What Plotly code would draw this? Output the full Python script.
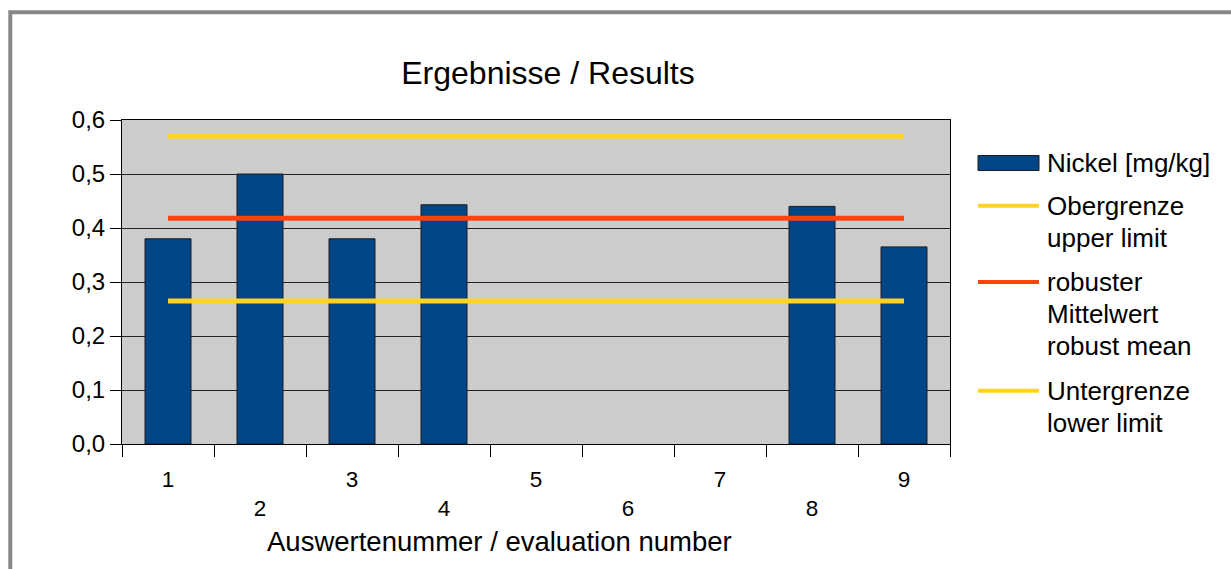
import plotly.graph_objects as go

# --- data -------------------------------------------------------------
categories = [1, 2, 3, 4, 5, 6, 7, 8, 9]
nickel = [0.38, 0.50, 0.38, 0.443, None, None, None, 0.44, 0.365]
upper_limit = 0.57
robust_mean = 0.418
lower_limit = 0.265

title_text = "Ergebnisse / Results"
x_title = "Auswertenummer / evaluation number"
series_name = "Nickel [mg/kg]"
legend_rows = [
    ("bar", "#004586", ["Nickel [mg/kg]"]),
    ("line", "#ffd320", ["Obergrenze", "upper limit"]),
    ("line", "#ff420e", ["robuster", "Mittelwert", "robust mean"]),
    ("line", "#ffd320", ["Untergrenze", "lower limit"]),
]

# --- geometry of the plot area (pixels) ---------------------------------
W, H = 1231, 569
L, R, T, B = 122, 950, 120, 444
FONT = "Liberation Sans, Arial, sans-serif"


def px_x(px):
    return (px - L) / (R - L)


def px_y(py):
    return (B - py) / (B - T)


BAR_BLUE = "#004586"
YELLOW = "#ffd320"
ORANGE = "#ff420e"

fig = go.Figure()

fig.add_trace(go.Bar(
    x=categories, y=nickel, width=0.5, name=series_name,
    marker=dict(color=BAR_BLUE, line=dict(color="#1c1c1c", width=1)),
    showlegend=False,
))

for val, col, nm in [(upper_limit, YELLOW, "Obergrenze"),
                     (robust_mean, ORANGE, "robuster Mittelwert"),
                     (lower_limit, YELLOW, "Untergrenze")]:
    fig.add_trace(go.Scatter(
        x=[categories[0], categories[-1]], y=[val, val], mode="lines",
        line=dict(color=col, width=5), name=nm, showlegend=False,
    ))

# staggered category labels: every second label goes one line lower
ticktext = [str(c) if i % 2 == 0 else "<br>" + str(c) for i, c in enumerate(categories)]
boundaries = [c - 0.5 for c in categories] + [categories[-1] + 0.5]

fig.update_xaxes(
    range=[categories[0] - 0.5, categories[-1] + 0.5],
    tickmode="array", tickvals=categories, ticktext=ticktext, ticks="",
    ticklabelstandoff=15,
    tickfont=dict(family=FONT, size=22.5, color="#000"),
    showline=True, linecolor="#000", linewidth=1, mirror=True,
    showgrid=False, zeroline=False,
    minor=dict(tickmode="array", tickvals=boundaries, ticks="outside",
               ticklen=12, tickcolor="#000", tickwidth=1, showgrid=False),
)
fig.update_yaxes(
    range=[0, 0.6], dtick=0.1, tick0=0, tickformat=".1f",
    ticks="outside", ticklen=11, tickcolor="#000", tickwidth=1,
    tickfont=dict(family=FONT, size=24, color="#000"),
    showline=True, linecolor="#000", linewidth=1, mirror=True,
    showgrid=True, gridcolor="#222222", gridwidth=1, zeroline=False,
)

shapes = [
    # outer chart frame
    dict(type="rect", xref="paper", yref="paper",
         x0=px_x(10.3), x1=px_x(1260), y0=px_y(620), y1=px_y(12.3),
         line=dict(color="#878787", width=4), fillcolor="rgba(0,0,0,0)",
         layer="below"),
]
annotations = [
    dict(text=x_title, xref="paper", yref="paper", x=px_x(499), y=px_y(541),
         xanchor="center", yanchor="middle", showarrow=False,
         font=dict(family=FONT, size=27.5, color="#000")),
]

# legend drawn at the right of the plot area
sym_x0, sym_x1, text_x = 978, 1039, 1045
row_tops = [163, 205.7, 282, 390.8]
line_step = 32
for (kind, col, lines), y0 in zip(legend_rows, row_tops):
    if kind == "bar":
        shapes.append(dict(type="rect", xref="paper", yref="paper",
                           x0=px_x(sym_x0), x1=px_x(sym_x1),
                           y0=px_y(y0 + 7.5), y1=px_y(y0 - 7.5),
                           fillcolor=col, line=dict(color="#1c1c1c", width=1)))
    else:
        shapes.append(dict(type="line", xref="paper", yref="paper",
                           x0=px_x(sym_x0), x1=px_x(sym_x1),
                           y0=px_y(y0), y1=px_y(y0),
                           line=dict(color=col, width=4)))
    for k, t in enumerate(lines):
        annotations.append(dict(text=t, xref="paper", yref="paper",
                                x=px_x(text_x), y=px_y(y0 + k * line_step),
                                xanchor="left", yanchor="middle", showarrow=False,
                                font=dict(family=FONT, size=26, color="#000")))

fig.update_layout(
    width=W, height=H,
    margin=dict(l=L, r=W - R, t=T, b=H - B, pad=0),
    paper_bgcolor="#ffffff", plot_bgcolor="#cccccc",
    separators=",.",
    barmode="overlay",
    title=dict(text=title_text, xref="container", yref="container",
               x=548 / W, y=1 - 73 / H, xanchor="center", yanchor="middle",
               font=dict(family=FONT, size=32, color="#000")),
    shapes=shapes, annotations=annotations,
    font=dict(family=FONT, color="#000"),
)

fig.write_html("out.html")
